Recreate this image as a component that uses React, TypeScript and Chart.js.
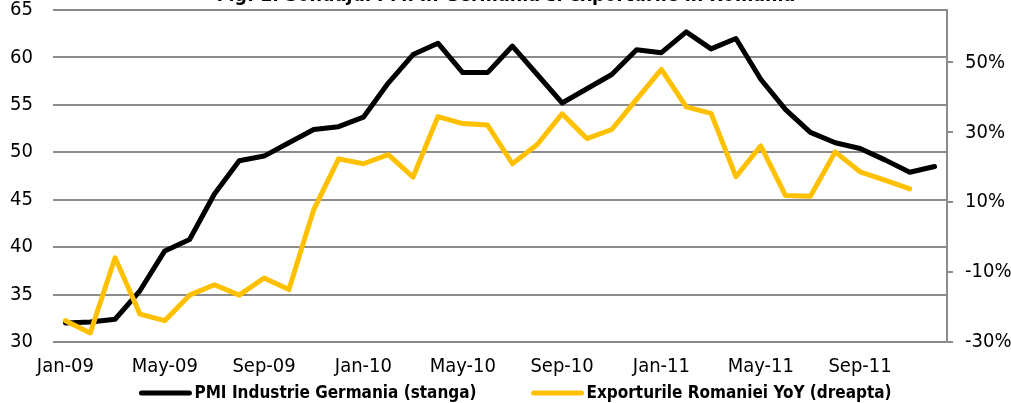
import React, { useEffect, useRef } from "react";
import { Chart, registerables } from "chart.js";

Chart.register(...registerables);

const titleText = "Fig. 1. Sondajul PMI in Germania si exporturile in Romania";

const months = [
  "Jan-09", "Feb-09", "Mar-09", "Apr-09", "May-09", "Jun-09", "Jul-09", "Aug-09", "Sep-09", "Oct-09", "Nov-09", "Dec-09",
  "Jan-10", "Feb-10", "Mar-10", "Apr-10", "May-10", "Jun-10", "Jul-10", "Aug-10", "Sep-10", "Oct-10", "Nov-10", "Dec-10",
  "Jan-11", "Feb-11", "Mar-11", "Apr-11", "May-11", "Jun-11", "Jul-11", "Aug-11", "Sep-11", "Oct-11", "Nov-11", "Dec-11",
];

const pmiGermany = [
  32.0, 32.1, 32.4, 35.4, 39.6, 40.8, 45.6, 49.1, 49.6, 51.0, 52.4, 52.7,
  53.7, 57.3, 60.3, 61.5, 58.4, 58.4, 61.2, 58.2, 55.2, 56.7, 58.2, 60.8,
  60.5, 62.7, 60.9, 62.0, 57.7, 54.5, 52.1, 51.0, 50.4, 49.2, 47.9, 48.5,
];

const exportsRomaniaYoY = [
  -23.9, -27.4, -5.9, -22.0, -23.9, -16.6, -13.6, -16.6, -11.7, -15.0, 7.9, 22.4,
  21.0, 23.6, 17.2, 34.5, 32.5, 32.1, 21.0, 26.5, 35.3, 28.2, 30.8, 39.4,
  48.0, 37.3, 35.4, 17.3, 26.1, 11.9, 11.7, 24.4, 18.7, 16.3, 13.8, null,
];

const leftTicks = [30, 35, 40, 45, 50, 55, 60, 65];
const rightTicks = [-30, -10, 10, 30, 50];

const seriesLabels = ["PMI Industrie Germania (stanga)", "Exporturile Romaniei YoY (dreapta)"];
const seriesColors = ["#000000", "#FFC000"];

const FONT = '"DejaVu Sans Condensed", "DejaVu Sans", sans-serif';
const GRID = "#8c8c8c";

const titleAndLegend = {
  id: "titleAndLegend",
  afterDraw(chart: any) {
    const ctx = chart.ctx;
    ctx.save();
    ctx.fillStyle = "#000";
    ctx.font = `bold 19.5px ${FONT}`;
    ctx.textAlign = "center";
    ctx.textBaseline = "alphabetic";
    ctx.fillText(titleText, 506, 1);

    // legend
    ctx.font = `bold 17px ${FONT}`;
    const lineLen = 54;
    const gapText = 2;
    const itemGap = 54;
    const ds = chart.data.datasets;
    const widths = ds.map((d: any) => ctx.measureText(d.label).width);
    let total = 0;
    widths.forEach((w: number, i: number) => {
      total += lineLen + gapText + w + (i < widths.length - 1 ? itemGap : 0);
    });
    let x = 515 - total / 2;
    const y = 393;
    ds.forEach((d: any, i: number) => {
      ctx.strokeStyle = d.borderColor;
      ctx.lineWidth = 5;
      ctx.lineCap = "round";
      ctx.beginPath();
      ctx.moveTo(x + 3, y);
      ctx.lineTo(x + lineLen - 3, y);
      ctx.stroke();
      ctx.textAlign = "left";
      ctx.textBaseline = "middle";
      ctx.fillStyle = "#000";
      ctx.fillText(d.label, x + lineLen + gapText, y + 1);
      x += lineLen + gapText + widths[i] + itemGap;
    });
    ctx.restore();
  },
};

export default function App() {
  const ref = useRef<HTMLCanvasElement | null>(null);
  useEffect(() => {
    if (!ref.current) return;
    const chart = new Chart(ref.current, {
      type: "line",
      data: {
        labels: months,
        datasets: [
          {
            label: seriesLabels[0],
            data: pmiGermany,
            borderColor: seriesColors[0],
            backgroundColor: seriesColors[0],
            borderWidth: 5,
            pointRadius: 0,
            tension: 0,
            borderCapStyle: "round",
            borderJoinStyle: "round",
            yAxisID: "yLeft",
            order: 2,
          },
          {
            label: seriesLabels[1],
            data: exportsRomaniaYoY,
            borderColor: seriesColors[1],
            backgroundColor: seriesColors[1],
            borderWidth: 5,
            pointRadius: 0,
            tension: 0,
            borderCapStyle: "round",
            borderJoinStyle: "round",
            spanGaps: false,
            yAxisID: "yRight",
            order: 1,
          },
        ],
      },
      options: {
        responsive: false,
        animation: false,
        layout: { padding: { top: 10, bottom: 24, left: 0, right: 0 } },
        plugins: {
          legend: { display: false },
          title: { display: false },
          tooltip: { enabled: false },
        },
        scales: {
          x: {
            type: "category",
            offset: true,
            grid: { display: false, drawTicks: false },
            border: { display: false },
            afterFit: (s: any) => {
              s.height = 37;
              s.paddingLeft = 0;
              s.paddingRight = 0;
            },
            ticks: {
              autoSkip: false,
              maxRotation: 0,
              minRotation: 0,
              padding: 14,
              color: "#000",
              font: { family: FONT, size: 20, lineHeight: 1.1 },
              callback: (_v: any, i: number) => (i % 4 === 0 ? months[i] : ""),
            },
          },
          yLeft: {
            type: "linear",
            position: "left",
            min: 30,
            max: 65,
            afterBuildTicks: (s: any) => {
              s.ticks = leftTicks.map((v) => ({ value: v }));
            },
            afterFit: (s: any) => {
              s.width = 53;
              s.paddingTop = 0;
              s.paddingBottom = 0;
            },
            grid: { color: GRID, lineWidth: 2, drawTicks: false },
            border: { display: false },
            ticks: {
              padding: 20,
              color: "#000",
              font: { family: FONT, size: 20, lineHeight: 1 },
            },
          },
          yRight: {
            type: "linear",
            position: "right",
            min: -30,
            max: 65,
            afterBuildTicks: (s: any) => {
              s.ticks = rightTicks.map((v) => ({ value: v }));
            },
            afterFit: (s: any) => {
              s.width = 64;
              s.paddingTop = 0;
              s.paddingBottom = 0;
            },
            grid: { drawOnChartArea: false, color: GRID, lineWidth: 2, tickLength: 6, tickColor: GRID },
            border: { display: true, color: GRID, width: 2 },
            ticks: {
              padding: 12,
              color: "#000",
              font: { family: FONT, size: 20, lineHeight: 1 },
              callback: (v: any) => `${v}%`,
            },
          },
        },
      },
      plugins: [titleAndLegend],
    });
    return () => chart.destroy();
  }, []);
  return (
    <div style={{ position: "fixed", left: 0, top: 0, width: 1011, height: 403, background: "#fff" }}>
      <canvas ref={ref} width={1011} height={403} style={{ display: "block" }} />
    </div>
  );
}
